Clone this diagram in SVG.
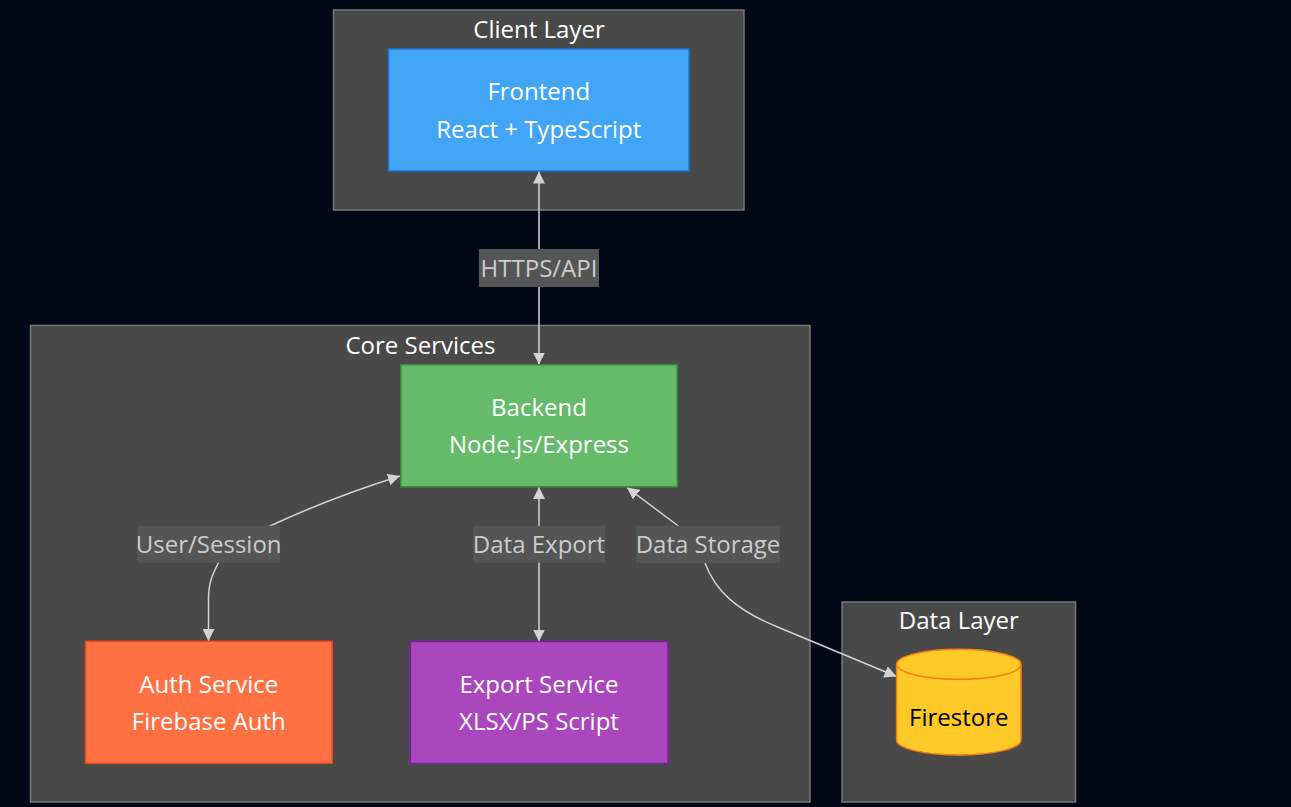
<svg xmlns="http://www.w3.org/2000/svg" width="1291" height="807" viewBox="0 0 1291 807">
<defs>
<style>
.bg{fill:#000818}
.cluster rect{fill:#494949;stroke:#777;stroke-width:1.5}
.t{font-family:"Open Sans","Noto Sans","DejaVu Sans",sans-serif;font-size:24px;text-anchor:middle}
.ctitle{fill:#fff}
.node text{fill:#fff}
.edge{fill:none;stroke:#d3d3d3;stroke-width:1.5;marker-start:url(#arr);marker-end:url(#arr)}
.lbl rect{fill:#555}
.lbl text{fill:#ccc}
</style>
<marker id="arr" viewBox="0 0 10 10" refX="10" refY="5" markerUnits="userSpaceOnUse" markerWidth="12" markerHeight="12" orient="auto-start-reverse">
<path d="M0,0 L10,5 L0,10 z" fill="#d3d3d3"/>
</marker>
</defs>
<rect class="bg" x="0" y="0" width="1291" height="807"/>

<g id="clusters">
<g id="client-layer" class="cluster">
<rect x="333.5" y="10" width="410.5" height="200"/>
<text class="t ctitle" x="539" y="37.5">Client Layer</text>
</g>
<g id="core-services" class="cluster">
<rect x="30.5" y="325.5" width="779.5" height="476.5"/>
<text class="t ctitle" x="420.5" y="353.5">Core Services</text>
</g>
<g id="data-layer" class="cluster">
<rect x="842" y="602" width="233.5" height="200"/>
<text class="t ctitle" x="958.8" y="629">Data Layer</text>
</g>
</g>

<g id="connectors">
<path class="edge" d="M539,171.5 L539,364.5"/>
<path class="edge" d="M400,476 Q330,498 270,526 C240,540 225,550 218.3,563 C211,577 208.5,585 208.5,600 L208.5,641"/>
<path class="edge" d="M539,487 L539,641.5"/>
<path class="edge" d="M627,487.5 L677,525 Q705,545 705,563 C715,590 735,610 780,628 L896.5,676.5"/>
<g class="lbl">
<rect x="479" y="249" width="120" height="38"/>
<text class="t" x="539" y="277">HTTPS/API</text>
</g>
<g class="lbl">
<rect x="137.3" y="525.7" width="142.7" height="37"/>
<text class="t" x="208.7" y="553.3">User/Session</text>
</g>
<g class="lbl">
<rect x="473" y="525.7" width="132" height="37"/>
<text class="t" x="539" y="553.3">Data Export</text>
</g>
<g class="lbl">
<rect x="636" y="525.7" width="144" height="37.5"/>
<text class="t" x="708" y="553.3">Data Storage</text>
</g>
</g>

<g id="frontend" class="node">
<rect x="388.5" y="49" width="300.5" height="122" fill="#42A5F5" stroke="#1976D2" stroke-width="1.5"/>
<text class="t" x="538.8" y="100">Frontend</text>
<text class="t" x="538.8" y="137.7">React + TypeScript</text>
</g>
<g id="backend" class="node">
<rect x="400.8" y="364.8" width="276.4" height="122" fill="#66BB6A" stroke="#388E3C" stroke-width="1.5"/>
<text class="t" x="539" y="415.5">Backend</text>
<text class="t" x="539" y="453.3">Node.js/Express</text>
</g>
<g id="auth" class="node">
<rect x="85.5" y="641.3" width="246.7" height="122" fill="#FF7043" stroke="#E64A19" stroke-width="1.5"/>
<text class="t" x="208.8" y="692.7">Auth Service</text>
<text class="t" x="208.8" y="730.3">Firebase Auth</text>
</g>
<g id="export" class="node">
<rect x="410.3" y="641.5" width="257.7" height="122" fill="#AB47BC" stroke="#7B1FA2" stroke-width="1.5"/>
<text class="t" x="539" y="692.7">Export Service</text>
<text class="t" x="539" y="730.3">XLSX/PS Script</text>
</g>
<g id="firestore" class="node">
<path d="M896.6,664.3 a62.2,15 0 0 0 124.4,0 a62.2,15 0 0 0 -124.4,0 l0,75.7 a62.2,15 0 0 0 124.4,0 l0,-75.7" fill="#FFCA28" stroke="#F57F17" stroke-width="1.5"/>
<text class="t" x="958.8" y="726" style="fill:#000">Firestore</text>
</g>
</svg>
